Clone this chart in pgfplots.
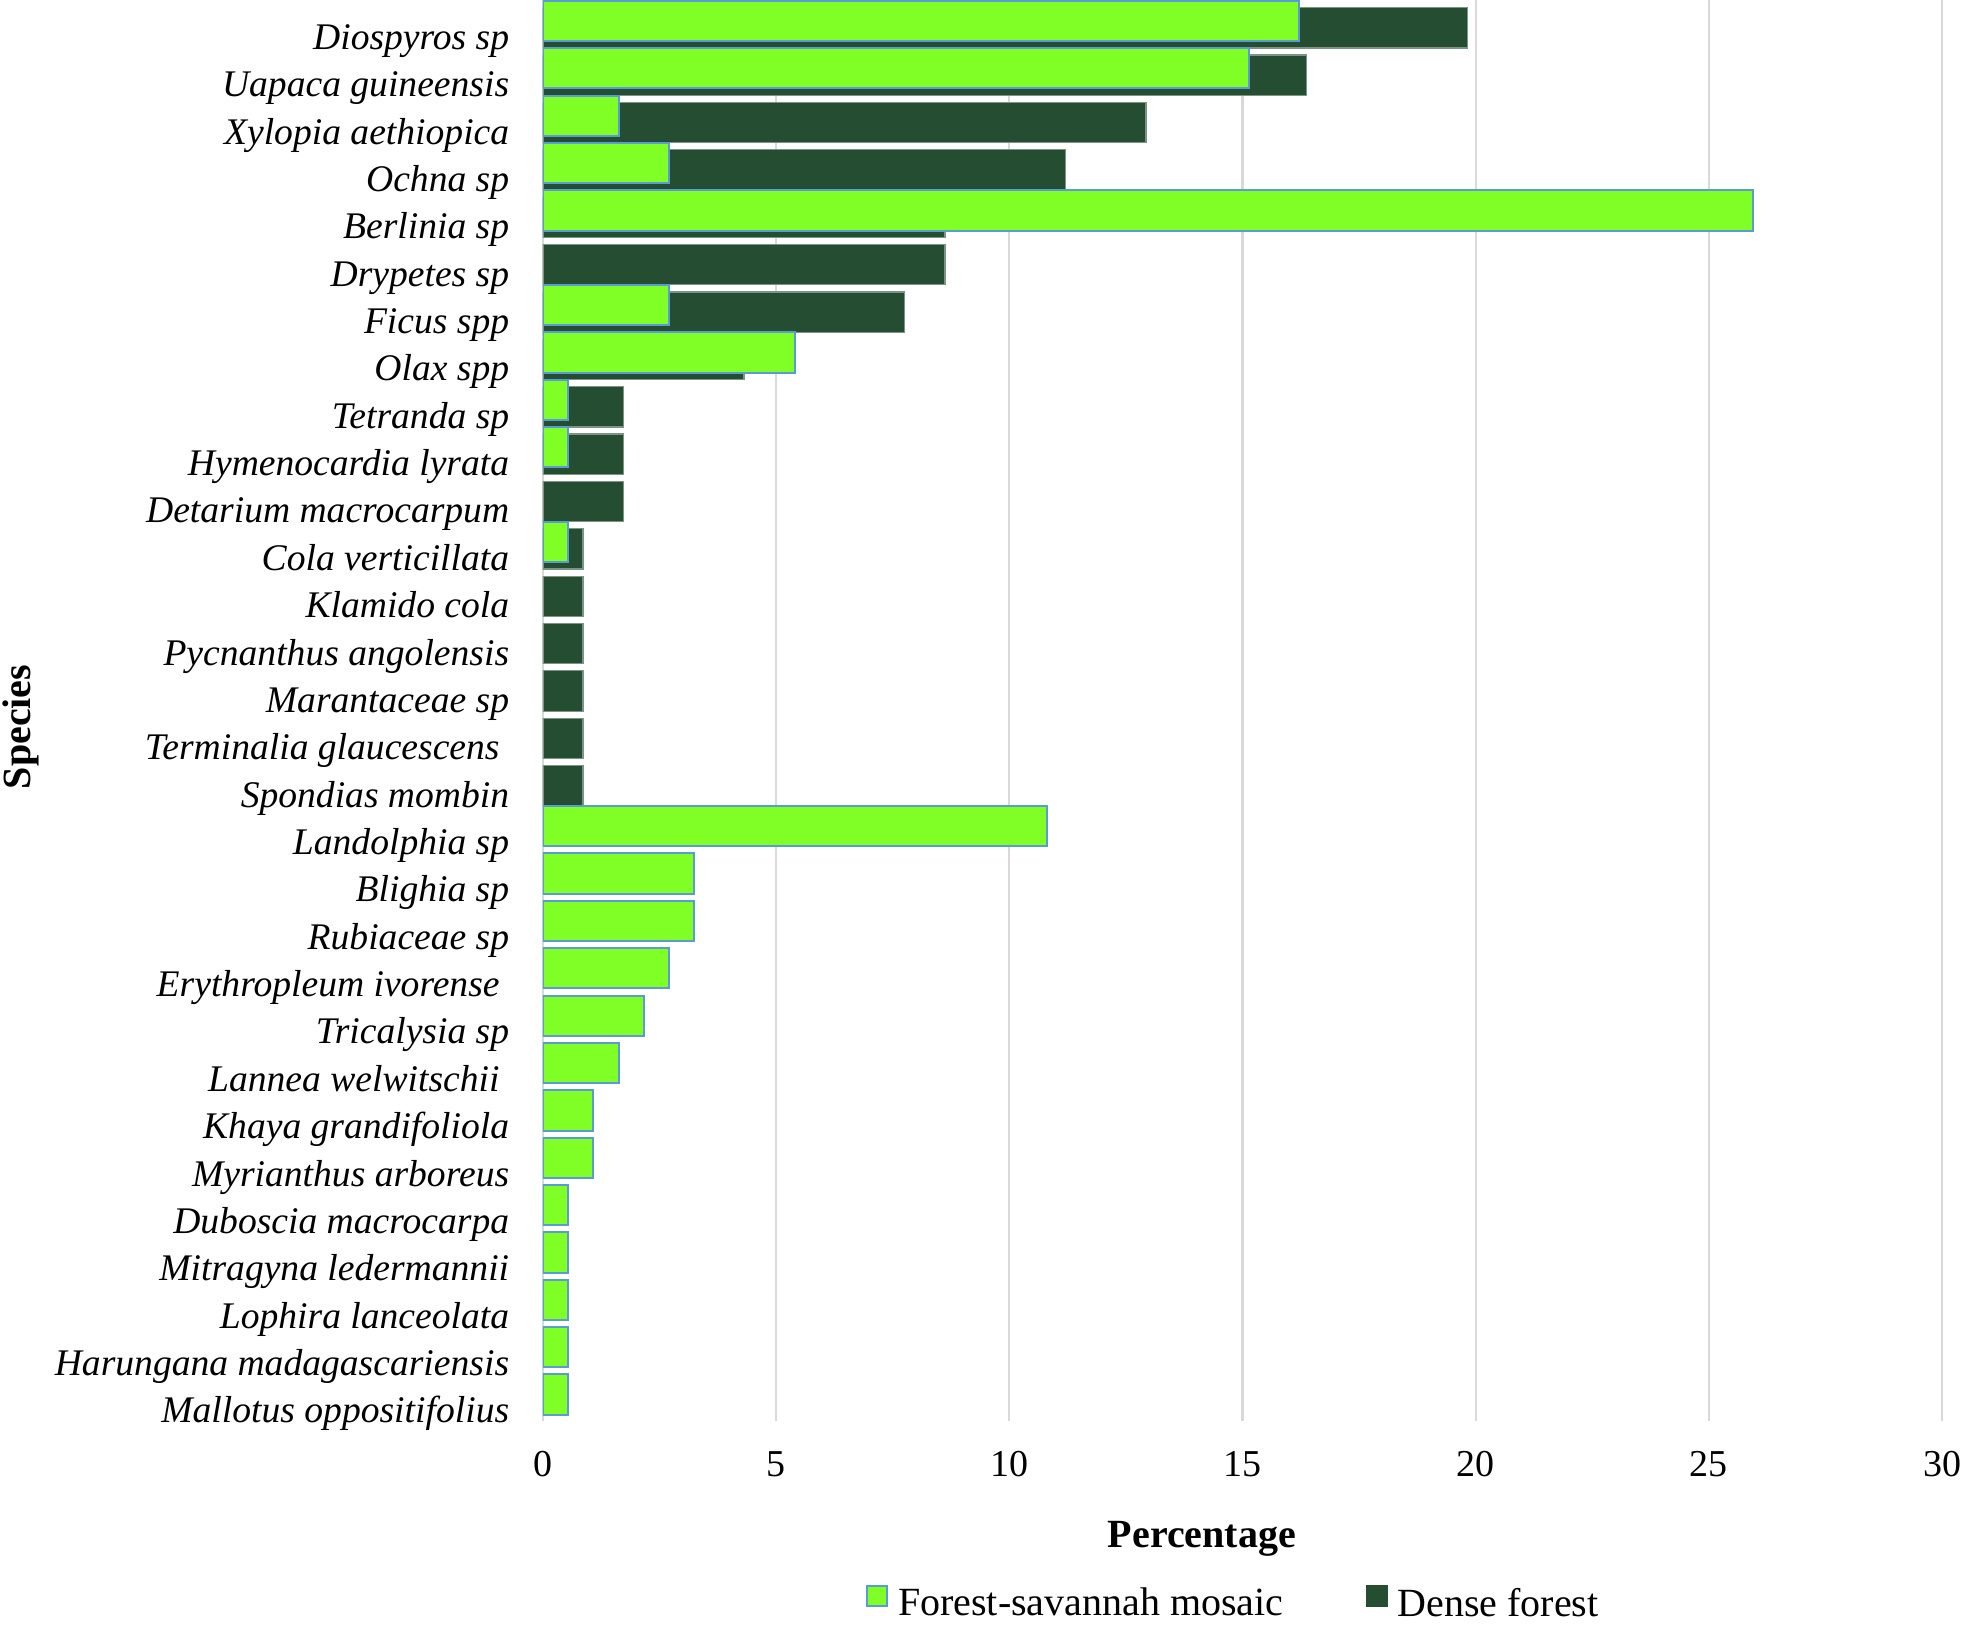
\documentclass[border=0pt]{standalone}
\usepackage{pgfplots}
\pgfplotsset{compat=1.18}
\usepackage{fontspec}
\setmainfont{Liberation Serif}
\definecolor{lightgr}{HTML}{80FF26}
\definecolor{edgeblue}{HTML}{5B9BD5}
\definecolor{darkgr}{HTML}{254D31}
\definecolor{gridgray}{HTML}{D9D9D9}
\pgfplotsset{
  sqlegend/.style={legend image code/.code={\draw[##1] (0pt,-0.3pt) rectangle (5pt,4.7pt);}},
  darklegend/.style={legend image code/.code={\fill[darkgr] (0pt,-0.3pt) rectangle (5pt,4.7pt);}},
}
\begin{document}
\begin{tikzpicture}
\begin{axis}[
  at={(0,0)}, anchor=south west,
  scale only axis, width=349.75pt, height=355.25pt,
  xmin=0, xmax=30, ymin=-0.5, ymax=29.5,
  xtick={0,5,...,30}, ytick={0,...,29},
  yticklabels={Mallotus oppositifolius, Harungana madagascariensis, Lophira lanceolata, Mitragyna ledermannii, Duboscia macrocarpa, Myrianthus arboreus, Khaya grandifoliola, {Lannea welwitschii\hspace*{2.4pt}}, Tricalysia sp, {Erythropleum ivorense\hspace*{2.4pt}}, Rubiaceae sp, Blighia sp, Landolphia sp, Spondias mombin, {Terminalia glaucescens\hspace*{2.4pt}}, Marantaceae sp, Pycnanthus angolensis, Klamido cola, Cola verticillata, Detarium macrocarpum, Hymenocardia lyrata, Tetranda sp, Olax spp, Ficus spp, Drypetes sp, Berlinia sp, Ochna sp, Xylopia aethiopica, Uapaca guineensis, Diospyros sp},
  xmajorgrids, ymajorgrids=false,
  major grid style={draw=gridgray, line width=0.55pt},
  axis line style={draw=none},
  major tick length=0pt,
  /pgf/number format/assume math mode=true,
  xticklabel style={font=\fontsize{9.5}{11}\selectfont, anchor=base, inner sep=0pt, yshift=-13.8pt},
  yticklabel style={font=\fontsize{9.4}{11}\selectfont\itshape, anchor=base east, inner sep=0pt, xshift=-8.25pt, yshift=-6.4pt},
  xlabel={Percentage},
  xlabel style={font=\fontsize{10}{12}\selectfont\bfseries, at={(axis description cs:0.471,0)}, anchor=base, inner sep=0pt, yshift=-31.5pt},
  ylabel={Species},
  ylabel style={font=\fontsize{10}{12}\selectfont\bfseries, at={(axis description cs:-0.3731,0.4884)}, anchor=center},
  legend style={at={(axis description cs:0.4956,0)}, anchor=center, yshift=-46pt, draw=none, fill=none, inner sep=0pt, legend columns=2, legend cell align=left, font=\fontsize{10}{12}\selectfont, /tikz/every odd column/.append style={column sep=0.5pt}, /tikz/every even column/.append style={column sep=18.6pt}},
  sqlegend,
]
% Dense forest (drawn behind)
\addplot[xbar, bar width=0.85, bar shift=0pt, fill=darkgr, draw=darkgr!60!white, line width=0.3pt, forget plot] coordinates {
(19.83,28.912) (16.38,27.912) (12.93,26.912) (11.21,25.912) (8.62,24.912)
(8.62,23.912) (7.76,22.912) (4.31,21.912) (1.72,20.912) (1.72,19.912)
(1.72,18.912) (0.86,17.912) (0.86,16.912) (0.86,15.912) (0.86,14.912)
(0.86,13.912) (0.86,12.912)
};
% Forest-savannah mosaic
\addplot[xbar, bar width=0.85, bar shift=0pt, fill=lightgr, draw=edgeblue, line width=0.5pt, sqlegend] coordinates {
(16.22,29.057) (15.14,28.057) (1.62,27.057) (2.70,26.057) (25.95,25.057)
(2.70,23.057) (5.41,22.057) (0.54,21.057) (0.54,20.057) (0.54,18.057)
(10.81,12.057) (3.24,11.057) (3.24,10.057) (2.70,9.057) (2.16,8.057)
(1.62,7.057) (1.08,6.057) (1.08,5.057) (0.54,4.057) (0.54,3.057)
(0.54,2.057) (0.54,1.057) (0.54,0.057)
};
\addlegendentry{Forest-savannah mosaic}
\addlegendimage{darklegend}
\addlegendentry{Dense forest}
\end{axis}
\pgfresetboundingbox
\path[use as bounding box] (-135.75pt,-51.75pt) rectangle (354.5pt,355.25pt);
\end{tikzpicture}
\end{document}
